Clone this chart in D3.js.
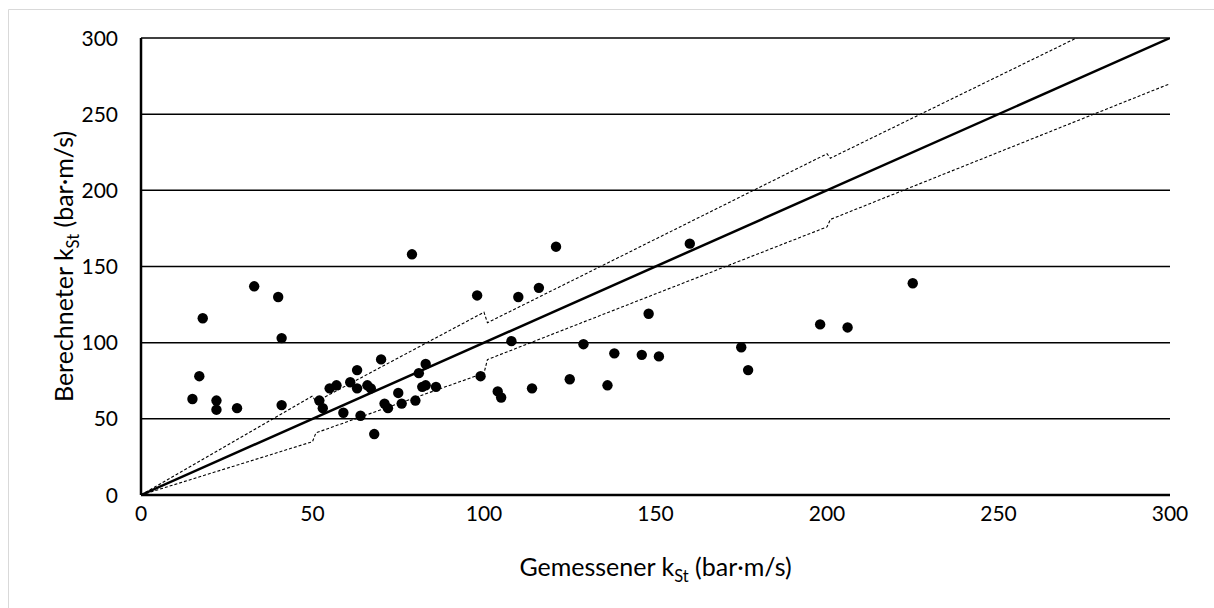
<!DOCTYPE html>
<html>
<head>
<meta charset="utf-8">
<script src="https://cdn.jsdelivr.net/npm/d3@7"></script>
<style>
  html, body { margin: 0; padding: 0; background: #fff; overflow: hidden; }
  svg { display: block; }
  text { font-family: Lato, "Open Sans", sans-serif; fill: #000; }
</style>
</head>
<body>
<svg id="chart"></svg>
<script>
// measured vs. calculated kSt values (bar·m/s)
var measured = [15, 17, 18, 22, 22, 28, 33, 40, 41, 41, 52, 53, 55, 57, 59, 61, 63, 63, 64, 66,
    67, 68, 70, 71, 72, 75, 76, 79, 80, 81, 82, 83, 83, 86, 98, 99, 104, 105, 108, 110,
    114, 116, 121, 125, 129, 136, 138, 146, 148, 151, 160, 175, 177, 198, 206, 225]
var calculated = [63, 78, 116, 62, 56, 57, 137, 130, 103, 59, 62, 57, 70, 72, 54, 74, 82, 70, 52, 72,
    70, 40, 89, 60, 57, 67, 60, 158, 62, 80, 71, 72, 86, 71, 131, 78, 68, 64, 101, 130,
    70, 136, 163, 76, 99, 72, 93, 92, 119, 91, 165, 97, 82, 112, 110, 139]

// 1:1 line and tolerance band
var diagX = [0, 300]
var diagY = [0, 300]
var tolX = [0, 50, 51, 100, 101, 200, 201, 300]
var upperY = [0, 65, 61.2, 120, 113.1, 224, 221.1, 330]
var lowerY = [0, 35, 40.8, 80, 88.9, 176, 180.9, 270]

var ticks = [0, 50, 100, 150, 200, 250, 300]

var outerWidth = 1214, outerHeight = 608
var margins = { top: 38, bottom: 113, left: 141, right: 44 }
var innerWidth = outerWidth - margins.left - margins.right
var innerHeight = outerHeight - margins.top - margins.bottom

var svg = d3.select("svg#chart")
    .attr("width", outerWidth)
    .attr("height", outerHeight)

// chart area border (only top and left edges are in the picture)
svg.append("path")
    .attr("d", "M8.5," + outerHeight + "V9.5H" + outerWidth)
    .style("fill", "none")
    .style("stroke", "#d9d9d9")
    .style("stroke-width", 1)

var plot = svg.append("g")
    .attr("transform", "translate(" + margins.left + "," + margins.top + ")")

var x = d3.scaleLinear().domain([0, 300]).range([0, innerWidth])
var y = d3.scaleLinear().domain([0, 300]).range([innerHeight, 0])

plot.append("clipPath").attr("id", "clip")
    .append("rect").attr("width", innerWidth).attr("height", innerHeight)

// horizontal gridlines
plot.append("g")
    .selectAll("line")
    .data(ticks.slice(1))
    .enter().append("line")
    .attr("x1", 0).attr("x2", innerWidth)
    .attr("y1", function(d) { return y(d) }).attr("y2", function(d) { return y(d) })
    .style("stroke", "#000")
    .style("stroke-width", 1.5)

// tick labels
plot.append("g")
    .selectAll("text")
    .data(ticks)
    .enter().append("text")
    .attr("x", -23)
    .attr("y", function(d) { return y(d) })
    .attr("dy", "0.36em")
    .attr("text-anchor", "end")
    .style("font-size", "21px")
    .text(function(d) { return d })

plot.append("g")
    .selectAll("text")
    .data(ticks)
    .enter().append("text")
    .attr("x", function(d) { return x(d) })
    .attr("y", innerHeight + 18)
    .attr("dy", "0.36em")
    .attr("text-anchor", "middle")
    .style("font-size", "21px")
    .text(function(d) { return d })

var line = d3.line()
    .x(function(d) { return x(d[0]) })
    .y(function(d) { return y(d[1]) })

var band = plot.append("g").attr("clip-path", "url(#clip)")

band.append("path")
    .datum(d3.zip(tolX, upperY))
    .attr("d", line)
    .style("fill", "none")
    .style("stroke", "#000")
    .style("stroke-width", 1.1)
    .style("stroke-dasharray", "3,2")

band.append("path")
    .datum(d3.zip(tolX, lowerY))
    .attr("d", line)
    .style("fill", "none")
    .style("stroke", "#000")
    .style("stroke-width", 1.1)
    .style("stroke-dasharray", "3,2")

band.append("path")
    .datum(d3.zip(diagX, diagY))
    .attr("d", line)
    .style("fill", "none")
    .style("stroke", "#000")
    .style("stroke-width", 2.5)

// axes lines
plot.append("line")
    .attr("x1", 0).attr("x2", 0).attr("y1", 0).attr("y2", innerHeight)
    .style("stroke", "#000").style("stroke-width", 2.5)
plot.append("line")
    .attr("x1", 0).attr("x2", innerWidth).attr("y1", innerHeight).attr("y2", innerHeight)
    .style("stroke", "#000").style("stroke-width", 2.5)

// points
plot.append("g")
    .selectAll("circle")
    .data(d3.zip(measured, calculated))
    .enter().append("circle")
    .attr("cx", function(d) { return x(d[0]) })
    .attr("cy", function(d) { return y(d[1]) })
    .attr("r", 5.2)
    .style("fill", "#000")

// axis titles
var xTitle = svg.append("text")
    .attr("x", margins.left + innerWidth / 2)
    .attr("y", 576)
    .attr("text-anchor", "middle")
    .style("font-size", "25px")
xTitle.append("tspan").text("Gemessener k")
xTitle.append("tspan").attr("dy", 6).style("font-size", "16.5px").text("St")
xTitle.append("tspan").attr("dy", -6).text(" (bar·m/s)")

var yTitle = svg.append("text")
    .attr("transform", "translate(73," + (margins.top + innerHeight / 2) + ") rotate(-90)")
    .attr("text-anchor", "middle")
    .style("font-size", "25px")
yTitle.append("tspan").text("Berechneter k")
yTitle.append("tspan").attr("dy", 6).style("font-size", "16.5px").text("St")
yTitle.append("tspan").attr("dy", -6).text(" (bar·m/s)")
</script>
</body>
</html>
